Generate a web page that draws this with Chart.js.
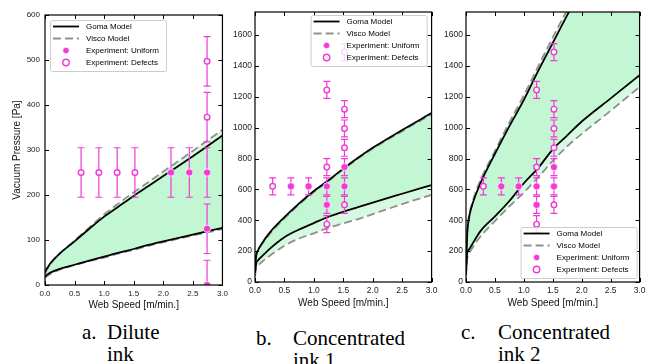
<!DOCTYPE html>
<html>
<head>
<meta charset="utf-8">
<script src="https://cdn.jsdelivr.net/npm/chart.js@4"></script>
<style>
  body { margin: 0; background: #fff; width: 649px; height: 364px; overflow: hidden; position: relative; }
  canvas { position: absolute; top: 0; }
  .cap { position: absolute; font-family: "Liberation Serif", "Times New Roman", serif; font-size: 21px; line-height: 22px; color: #000; white-space: nowrap; }
</style>
</head>
<body>
<canvas id="chartA" width="232" height="318" style="left:0px"></canvas>
<canvas id="chartB" width="215" height="318" style="left:226px"></canvas>
<canvas id="chartC" width="212" height="318" style="left:437px"></canvas>

<div class="cap" style="left:82px;top:321px">a.</div>
<div class="cap" style="left:107px;top:321px">Dilute<br>ink</div>
<div class="cap" style="left:256px;top:327px">b.</div>
<div class="cap" style="left:293px;top:327px">Concentrated<br>ink 1</div>
<div class="cap" style="left:461px;top:321px">c.</div>
<div class="cap" style="left:498px;top:321px">Concentrated<br>ink 2</div>

<script>
// web speed grid of the model curves [m/min.]
const curveSpeed = [0, 0.02, 0.05, 0.1, 0.25, 0.5, 0.75, 1.0, 1.25, 1.5, 1.75, 2.0, 2.5, 3.0];

// a. dilute ink
const gomaUpperA  = [28, 34, 40, 50, 70, 97, 125, 152, 175, 198, 220, 242, 286, 332];
const gomaLowerA  = [18, 21, 24, 28, 36, 45, 54, 63, 72, 80, 89, 97, 112, 127];
const viscoUpperA = [24, 31, 38, 48, 70, 99, 128, 157, 182, 206, 229, 252, 298, 345];
const viscoLowerA = [15, 18, 21, 25, 34, 44, 53, 61, 70, 78, 87, 95, 110, 124];
const uniformSpeedA = [2.13, 2.44, 2.74, 2.74, 2.74];
const uniformPressA = [250, 250, 250, 125, 0];
const uniformErrA   = [55, 55, 55, 55, 55];
const defectSpeedA  = [0.61, 0.91, 1.22, 1.52, 2.74, 2.74];
const defectPressA  = [250, 250, 250, 250, 373, 497];
const defectErrA    = [55, 55, 55, 55, 55, 55];

// b. concentrated ink 1
const gomaUpperB  = [70, 170, 205, 240, 320, 420, 510, 590, 660, 735, 805, 870, 985, 1095];
const gomaLowerB  = [60, 120, 140, 160, 215, 290, 340, 382, 423, 455, 485, 515, 572, 628];
const viscoUpperB = [75, 170, 200, 235, 312, 412, 502, 583, 655, 730, 800, 865, 978, 1088];
const viscoLowerB = [40, 85, 105, 125, 170, 235, 282, 315, 352, 380, 408, 440, 505, 565];
const uniformSpeedB = [0.61, 0.91, 1.22, 1.22, 1.52, 1.52];
const uniformPressB = [620, 620, 620, 500, 745, 620];
const uniformErrB   = [55, 55, 55, 55, 55, 55];
const defectSpeedB  = [0.3, 1.22, 1.22, 1.22, 1.52, 1.52, 1.52, 1.52, 1.52];
const defectPressB  = [620, 745, 375, 1245, 500, 870, 995, 1120, 1490];
const defectErrB    = [55, 55, 55, 55, 55, 55, 55, 55, 55];

// c. concentrated ink 2
const gomaUpperC  = [60, 300, 410, 490, 640, 830, 1010, 1180, 1370, 1550, 1730, 1900, 2220, 2520];
const gomaLowerC  = [50, 185, 210, 240, 330, 425, 525, 640, 740, 860, 950, 1040, 1190, 1340];
const viscoUpperC = [70, 320, 425, 505, 660, 850, 1035, 1210, 1400, 1585, 1765, 1940, 2270, 2580];
const viscoLowerC = [40, 150, 180, 215, 295, 395, 490, 580, 680, 785, 880, 960, 1110, 1265];
const uniformSpeedC = [0.61, 0.91, 1.22, 1.22, 1.52, 1.52];
const uniformPressC = [620, 620, 620, 500, 745, 620];
const uniformErrC   = [55, 55, 55, 55, 55, 55];
const defectSpeedC  = [0.3, 1.22, 1.22, 1.22, 1.52, 1.52, 1.52, 1.52, 1.52];
const defectPressC  = [620, 745, 375, 1245, 500, 870, 995, 1120, 1490];
const defectErrC    = [55, 55, 55, 55, 55, 55, 55, 55, 55];

const MAGENTA = '#f23ad6';
const FILL = 'rgba(175,244,198,0.5)';
const DASH_GRAY = 'rgba(125,125,125,0.85)';
const FONT = '"Liberation Sans", Arial, sans-serif';

const pts = (xs, ys) => xs.map((v, i) => ({ x: v, y: ys[i] }));

// matplotlib style frame with inward ticks on all four sides
const frameTicks = {
  id: 'frameTicks',
  afterDatasetsDraw(chart) {
    const { ctx, chartArea: a, scales: { x, y } } = chart;
    ctx.save();
    ctx.strokeStyle = '#000';
    ctx.lineWidth = 1.2;
    ctx.strokeRect(a.left, a.top, a.right - a.left, a.bottom - a.top);
    ctx.lineWidth = 1;
    ctx.beginPath();
    x.ticks.forEach(t => {
      const px = Math.round(x.getPixelForValue(t.value)) + 0.5;
      ctx.moveTo(px, a.bottom); ctx.lineTo(px, a.bottom - 4);
      ctx.moveTo(px, a.top); ctx.lineTo(px, a.top + 4);
    });
    y.ticks.forEach(t => {
      const py = Math.round(y.getPixelForValue(t.value)) + 0.5;
      ctx.moveTo(a.left, py); ctx.lineTo(a.left + 4, py);
      ctx.moveTo(a.right, py); ctx.lineTo(a.right - 4, py);
    });
    ctx.stroke();
    ctx.restore();
  }
};

// vertical error bars with caps, drawn just under the markers
const errorBars = {
  id: 'errorBars',
  beforeDatasetDraw(chart, args) {
    if (args.index !== 1) return;
    const { ctx, chartArea: a, scales: { x, y } } = chart;
    ctx.save();
    ctx.beginPath();
    ctx.rect(a.left, a.top, a.right - a.left, a.bottom - a.top);
    ctx.clip();
    ctx.strokeStyle = MAGENTA;
    ctx.lineWidth = 1.2;
    chart.data.datasets.forEach(ds => {
      if (!ds.errors) return;
      ds.data.forEach((p, i) => {
        const px = x.getPixelForValue(p.x);
        const top = y.getPixelForValue(p.y + ds.errors[i]);
        const bot = y.getPixelForValue(p.y - ds.errors[i]);
        ctx.beginPath();
        ctx.moveTo(px, top); ctx.lineTo(px, bot);
        ctx.moveTo(px - 3.5, top); ctx.lineTo(px + 3.5, top);
        ctx.moveTo(px - 3.5, bot); ctx.lineTo(px + 3.5, bot);
        ctx.stroke();
      });
    });
    ctx.restore();
  }
};

// legend box placed inside the plot area
const boxLegend = {
  id: 'boxLegend',
  afterDraw(chart, args, opts) {
    const { ctx, chartArea: a } = chart;
    const w = 116, h = 51;
    const bx = opts.corner.includes('r') ? a.right - opts.dx - w : a.left + opts.dx;
    const by = opts.corner.includes('b') ? a.bottom - opts.dy - h : a.top + opts.dy;
    ctx.save();
    ctx.fillStyle = 'rgba(255,255,255,0.8)';
    ctx.strokeStyle = '#cccccc';
    ctx.lineWidth = 1;
    ctx.beginPath();
    ctx.roundRect(bx + 0.5, by + 0.5, w, h, 2);
    ctx.fill();
    ctx.stroke();
    ctx.font = '8px ' + FONT;
    ctx.textBaseline = 'middle';
    ctx.fillStyle = '#000';
    [2, 4, 0, 1].forEach((idx, row) => {
      const ds = chart.data.datasets[idx];
      const ry = by + 6.5 + row * 12;
      const hx = bx + 16;
      if (ds.pointRadius === 0) {
        ctx.save();
        ctx.strokeStyle = ds.borderColor;
        ctx.lineWidth = ds.borderWidth;
        ctx.setLineDash(ds.borderDash || []);
        ctx.beginPath();
        ctx.moveTo(bx + 3, ry); ctx.lineTo(bx + 29, ry);
        ctx.stroke();
        ctx.restore();
      } else {
        ctx.save();
        ctx.beginPath();
        ctx.arc(hx, ry, 3.2, 0, Math.PI * 2);
        ctx.fillStyle = ds.backgroundColor;
        ctx.fill();
        ctx.strokeStyle = ds.borderColor;
        ctx.lineWidth = ds.borderWidth;
        ctx.stroke();
        ctx.restore();
      }
      ctx.fillText(ds.label, bx + 36, ry);
    });
    ctx.restore();
  }
};

function makePanel(id, p) {
  const curve = (ys, extra) => Object.assign({
    type: 'line',
    data: pts(curveSpeed, ys),
    pointRadius: 0,
    borderWidth: 1.8,
    cubicInterpolationMode: 'monotone',
    fill: false
  }, extra);

  return new Chart(document.getElementById(id), {
    type: 'scatter',
    data: {
      datasets: [
        { label: 'Experiment: Uniform', data: pts(p.uniformSpeed, p.uniformPress), errors: p.uniformErr,
          pointRadius: 3.6, backgroundColor: MAGENTA, borderColor: '#ffffff', borderWidth: 0.7 },
        { label: 'Experiment: Defects', data: pts(p.defectSpeed, p.defectPress), errors: p.defectErr,
          pointRadius: 2.8, backgroundColor: '#ffffff', borderColor: MAGENTA, borderWidth: 1.4 },
        curve(p.gomaUpper, { label: 'Goma Model', borderColor: '#000', backgroundColor: FILL, fill: 3 }),
        curve(p.gomaLower, { borderColor: '#000' }),
        curve(p.viscoUpper, { label: 'Visco Model', borderColor: DASH_GRAY, borderDash: [8, 4], backgroundColor: FILL, fill: 5 }),
        curve(p.viscoLower, { borderColor: DASH_GRAY, borderDash: [8, 4] })
      ]
    },
    options: {
      responsive: false,
      animation: false,
      events: [],
      layout: { padding: p.padding },
      plugins: {
        legend: { display: false },
        tooltip: { enabled: false },
        filler: { drawTime: 'beforeDatasetsDraw' },
        boxLegend: p.legend
      },
      scales: {
        x: {
          type: 'linear', min: 0, max: 3,
          grid: { display: false, drawTicks: false },
          border: { display: false },
          ticks: { stepSize: 0.5, padding: p.xPad, color: '#222', font: { family: FONT, size: p.tickSize },
                   callback: v => v.toFixed(1) },
          title: { display: true, text: 'Web Speed [m/min.]', color: '#111',
                   font: { family: FONT, size: 10 }, padding: { top: 0, bottom: p.xTitlePad } },
          afterFit: s => { s.height = p.xHeight; }
        },
        y: {
          min: 0, max: p.yMax,
          grid: { display: false, drawTicks: false },
          border: { display: false },
          ticks: { stepSize: p.yStep, includeBounds: false, padding: p.yPad, color: '#222',
                   font: { family: FONT, size: p.tickSize }, callback: v => String(v) },
          title: { display: !!p.yTitle, text: p.yTitle || '', color: '#111',
                   font: { family: FONT, size: 10 }, padding: { top: 11, bottom: 0 } },
          afterFit: s => { s.width = p.yWidth; }
        }
      }
    },
    plugins: [frameTicks, errorBars, boxLegend]
  });
}

makePanel('chartA', {
  gomaUpper: gomaUpperA, gomaLower: gomaLowerA, viscoUpper: viscoUpperA, viscoLower: viscoLowerA,
  uniformSpeed: uniformSpeedA, uniformPress: uniformPressA, uniformErr: uniformErrA,
  defectSpeed: defectSpeedA, defectPress: defectPressA, defectErr: defectErrA,
  yMax: 600, yStep: 100, yTitle: 'Vacuum Pressure [Pa]',
  padding: { left: 0, right: 8, top: 15, bottom: 0 },
  yWidth: 45, xHeight: 33, tickSize: 8, xPad: 4, yPad: 5, xTitlePad: 7,
  legend: { corner: 'tl', dx: 5, dy: 5 }
});

makePanel('chartB', {
  gomaUpper: gomaUpperB, gomaLower: gomaLowerB, viscoUpper: viscoUpperB, viscoLower: viscoLowerB,
  uniformSpeed: uniformSpeedB, uniformPress: uniformPressB, uniformErr: uniformErrB,
  defectSpeed: defectSpeedB, defectPress: defectPressB, defectErr: defectErrB,
  yMax: 1750, yStep: 200,
  padding: { left: 0, right: 8, top: 12, bottom: 0 },
  yWidth: 29, xHeight: 36, tickSize: 8.5, xPad: 3.5, yPad: 3, xTitlePad: 9,
  legend: { corner: 'tr', dx: 5, dy: 3 }
});

makePanel('chartC', {
  gomaUpper: gomaUpperC, gomaLower: gomaLowerC, viscoUpper: viscoUpperC, viscoLower: viscoLowerC,
  uniformSpeed: uniformSpeedC, uniformPress: uniformPressC, uniformErr: uniformErrC,
  defectSpeed: defectSpeedC, defectPress: defectPressC, defectErr: defectErrC,
  yMax: 1750, yStep: 200,
  padding: { left: 0, right: 6, top: 12, bottom: 0 },
  yWidth: 29, xHeight: 36, tickSize: 8.5, xPad: 3.5, yPad: 3, xTitlePad: 9,
  legend: { corner: 'br', dx: 3, dy: 4 }
});
</script>
</body>
</html>
